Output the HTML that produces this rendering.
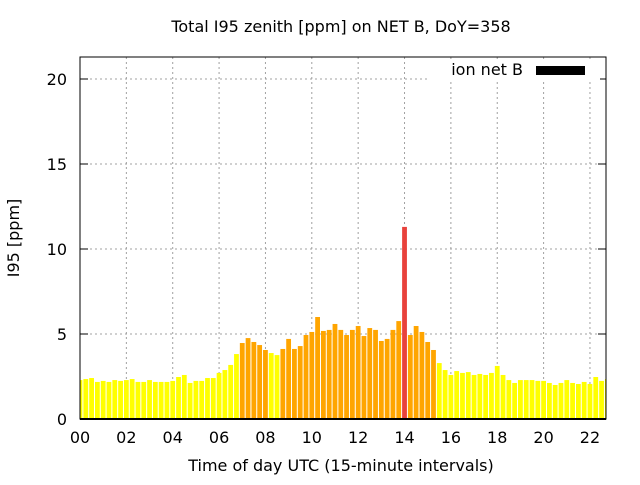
<!DOCTYPE html>
<html><head><meta charset="utf-8"><style>
body{margin:0;background:#fff}
svg text{font-family:"DejaVu Sans","Liberation Sans",sans-serif;fill:#000}
</style></head><body>
<svg id="chart" width="640" height="480" viewBox="0 0 640 480">
<text x="341" y="32" font-size="16" text-anchor="middle">Total I95 zenith [ppm] on NET B, DoY=358</text>
<g id="grid"></g>
<g id="bars"></g>
<g id="axes"></g>
<text x="341" y="471" font-size="16" text-anchor="middle">Time of day UTC (15-minute intervals)</text>
<text x="19" y="238" font-size="16" text-anchor="middle" transform="rotate(-90 19 238)">I95 [ppm]</text>
<g>
<rect x="428" y="60" width="172" height="20" fill="#fff"/>
<text x="523" y="75" font-size="16" text-anchor="end">ion net B</text>
<rect x="536" y="66" width="49" height="9" fill="#000"/>
</g>
</svg>
<script>
const values = [2.29,2.35,2.41,2.18,2.24,2.18,2.29,2.24,2.29,2.35,2.18,2.18,2.29,2.18,2.18,2.18,2.24,2.47,2.59,2.12,2.24,2.24,2.41,2.41,2.71,2.88,3.18,3.82,4.47,4.76,4.53,4.35,4.06,3.88,3.76,4.12,4.71,4.12,4.29,4.94,5.12,6.0,5.18,5.24,5.59,5.24,4.94,5.24,5.47,4.88,5.35,5.24,4.59,4.71,5.24,5.76,11.3,4.94,5.47,5.12,4.53,4.06,3.29,2.88,2.59,2.82,2.71,2.76,2.59,2.65,2.59,2.71,3.12,2.59,2.29,2.12,2.29,2.29,2.29,2.24,2.24,2.12,2.0,2.12,2.29,2.12,2.06,2.18,2.06,2.47,2.24,2.35];
const xTicks = ["00","02","04","06","08","10","12","14","16","18","20","22"];
const yTicks = [0,5,10,15,20];
const NS="http://www.w3.org/2000/svg";
const L=80,R=606,T=57,B=419;
const xs=h=>L+h*23.18;
const ys=v=>B-v*17;
function mk(tag,attrs,parent){const e=document.createElementNS(NS,tag);for(const k in attrs)e.setAttribute(k,attrs[k]);parent.appendChild(e);return e;}
const grid=document.getElementById('grid'),bars=document.getElementById('bars'),axes=document.getElementById('axes');
yTicks.forEach(v=>{
  if(v>0){const g=mk('line',{x1:L,x2:R,y1:ys(v),y2:ys(v),stroke:'#a0a0a0','stroke-dasharray':'2,3'},grid);
  
  }
  const t=mk('text',{x:L-13,y:ys(v)+6,'font-size':16,'text-anchor':'end'},axes);t.textContent=v;
  
  
  mk('line',{x1:L,x2:L+8,y1:ys(v),y2:ys(v),stroke:'#000'},axes);
  mk('line',{x1:R,x2:R-8,y1:ys(v),y2:ys(v),stroke:'#000'},axes);
});
xTicks.forEach((s,i)=>{
  const x=xs(+s);
  if(i>0){const g=mk('line',{x1:x,x2:x,y1:T,y2:B,stroke:'#a0a0a0','stroke-dasharray':'2,3'},grid);
  
  }
  const t=mk('text',{x:x,y:443,'font-size':16,'text-anchor':'middle'},axes);t.textContent=s;
  
  
});
values.forEach((v,i)=>{
  const x=xs(i*0.25);
  const c=v>10?'#e8423c':(v>=4?'#ffa500':'#ffff00');
  let x0=Math.max(L,x-2.4),x1=Math.min(R,x+2.4);
  const r=mk('rect',{x:x0,y:ys(v),width:Math.max(0,x1-x0),height:B-ys(v),fill:c},bars);
  
  
});
mk('rect',{x:L,y:T,width:R-L,height:B-T,fill:'none',stroke:'#000','stroke-width':1},axes);
mk('line',{x1:L,x2:R,y1:B,y2:B,stroke:'#000','stroke-width':2},axes);
</script>
</body></html>
